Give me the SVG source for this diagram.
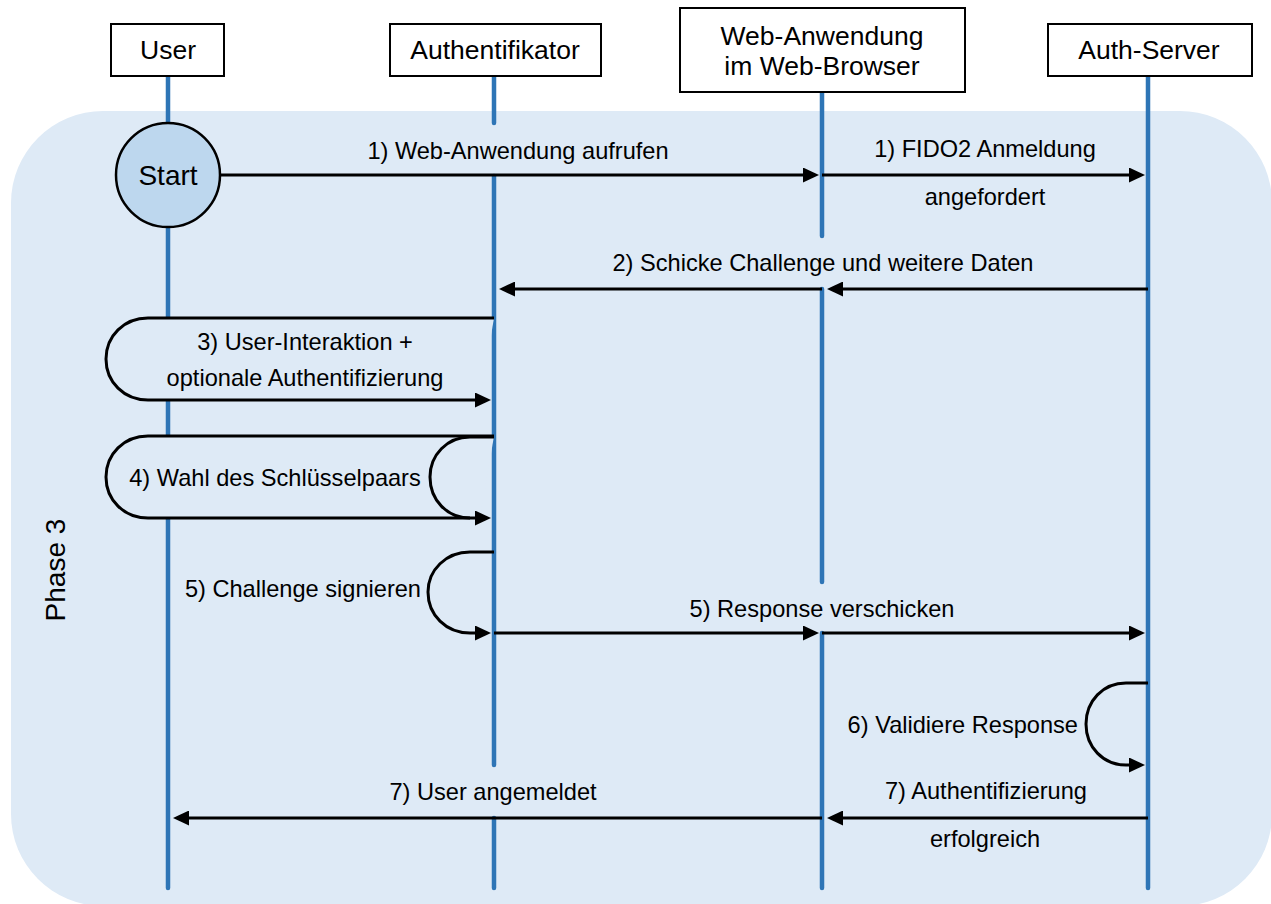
<svg xmlns="http://www.w3.org/2000/svg" width="1271" height="904" viewBox="0 0 1271 904">
  <defs>
    <marker id="arrow" markerUnits="userSpaceOnUse" markerWidth="17" markerHeight="15" refX="5" refY="7.5" orient="auto">
      <path d="M0,0 L16,7.5 L0,15 z" fill="#000"/>
    </marker>
    <style>
      .txt { font-family: "Liberation Sans", Arial, sans-serif; fill: #000; }
      .head { font-size: 26.5px; text-anchor: middle; }
      .msg { font-size: 23.6px; }
      .mid { text-anchor: middle; }
      .end { text-anchor: end; }
      .box { fill: #fff; stroke: #000; stroke-width: 2; }
      .life { stroke: #2E75B6; stroke-width: 4.5; stroke-linecap: round; fill: none; }
      .conn { stroke: #000; stroke-width: 3; fill: none; }
      .loop { stroke: #000; stroke-width: 3; fill: #DEEAF6; }
    </style>
  </defs>

  <rect width="1271" height="904" fill="#fff"/>

  <!-- phase area -->
  <g id="phase3">
    <rect x="11" y="111" width="1261" height="795" rx="92" ry="92" fill="#DEEAF6"/>
    <text class="txt" font-size="28" text-anchor="middle" transform="translate(65,570) rotate(-90)">Phase 3</text>
  </g>

  <!-- lifelines -->
  <g id="lifelines">
    <path class="life" d="M168,76 V318 M168,400 V436 M168,518 V888"/>
    <path class="life" d="M494,76 V123 M494,176 V765 M494,818 V888"/>
    <path class="life" d="M822,92 V236 M822,289 V582 M822,633 V888"/>
    <path class="life" d="M1148,76 V888"/>
  </g>

  <!-- participants -->
  <g id="user">
    <rect class="box" x="111" y="24" width="113" height="52"/>
    <text class="txt head" x="168" y="59">User</text>
  </g>
  <g id="authentifikator">
    <rect class="box" x="390" y="24" width="211" height="52"/>
    <text class="txt head" x="495" y="59">Authentifikator</text>
  </g>
  <g id="webapp">
    <rect class="box" x="680" y="8" width="285" height="84"/>
    <text class="txt head" x="822" y="45">Web-Anwendung</text>
    <text class="txt head" x="822" y="75">im Web-Browser</text>
  </g>
  <g id="authserver">
    <rect class="box" x="1048" y="24" width="204" height="52"/>
    <text class="txt head" x="1149" y="59">Auth-Server</text>
  </g>

  <!-- messages -->
  <g id="connectors">
    <!-- 1 -->
    <path class="conn" d="M220,175 H808" marker-end="url(#arrow)"/>
    <path class="conn" d="M822,175 H1134" marker-end="url(#arrow)"/>
    <!-- 2 -->
    <path class="conn" d="M1148,289 H838" marker-end="url(#arrow)"/>
    <path class="conn" d="M822,289 H510" marker-end="url(#arrow)"/>
    <!-- 3 -->
    <path class="loop" d="M494,318 H148 C124,318 106,336 106,359 C106,382 124,400 148,400 H480" marker-end="url(#arrow)"/>
    <!-- 4 -->
    <path class="loop" d="M494,436 H148 C124,436 106,454 106,477 C106,500 124,518 148,518 H480" marker-end="url(#arrow)"/>
    <path class="conn" d="M494,437 H470 C447,437 430,455 430,477 C430,500 447,518 470,518"/>
    <!-- 5 -->
    <path class="conn" d="M494,552 H470 C446,552 428,570 428,592 C428,615 446,633 470,633 H480" marker-end="url(#arrow)"/>
    <path class="conn" d="M494,633 H808" marker-end="url(#arrow)"/>
    <path class="conn" d="M822,633 H1134" marker-end="url(#arrow)"/>
    <!-- 6 -->
    <path class="conn" d="M1148,683 H1126 C1103,683 1086,701 1086,724 C1086,747 1103,765 1126,765 H1134" marker-end="url(#arrow)"/>
    <!-- 7 -->
    <path class="conn" d="M1148,818 H838" marker-end="url(#arrow)"/>
    <path class="conn" d="M822,818 H184" marker-end="url(#arrow)"/>
  </g>

  <!-- start node -->
  <g id="start">
    <circle cx="168" cy="175" r="52" fill="#BDD7EE" stroke="#000" stroke-width="2.5"/>
    <text class="txt mid" font-size="28" x="168" y="185">Start</text>
  </g>

  <!-- labels -->
  <g id="labels">
    <text class="txt msg mid" x="518" y="159">1) Web-Anwendung aufrufen</text>
    <text class="txt msg mid" x="985" y="157">1) FIDO2 Anmeldung</text>
    <text class="txt msg mid" x="985" y="205">angefordert</text>
    <text class="txt msg mid" x="823" y="271">2) Schicke Challenge und weitere Daten</text>
    <text class="txt msg mid" x="305" y="350">3) User-Interaktion +</text>
    <text class="txt msg mid" x="305" y="386">optionale Authentifizierung</text>
    <text class="txt msg mid" x="275" y="486">4) Wahl des Schlüsselpaars</text>
    <text class="txt msg end" x="421" y="597">5) Challenge signieren</text>
    <text class="txt msg mid" x="822" y="617">5) Response verschicken</text>
    <text class="txt msg end" x="1078" y="733">6) Validiere Response</text>
    <text class="txt msg mid" x="493" y="800">7) User angemeldet</text>
    <text class="txt msg mid" x="986" y="799">7) Authentifizierung</text>
    <text class="txt msg mid" x="985" y="847">erfolgreich</text>
  </g>
</svg>
